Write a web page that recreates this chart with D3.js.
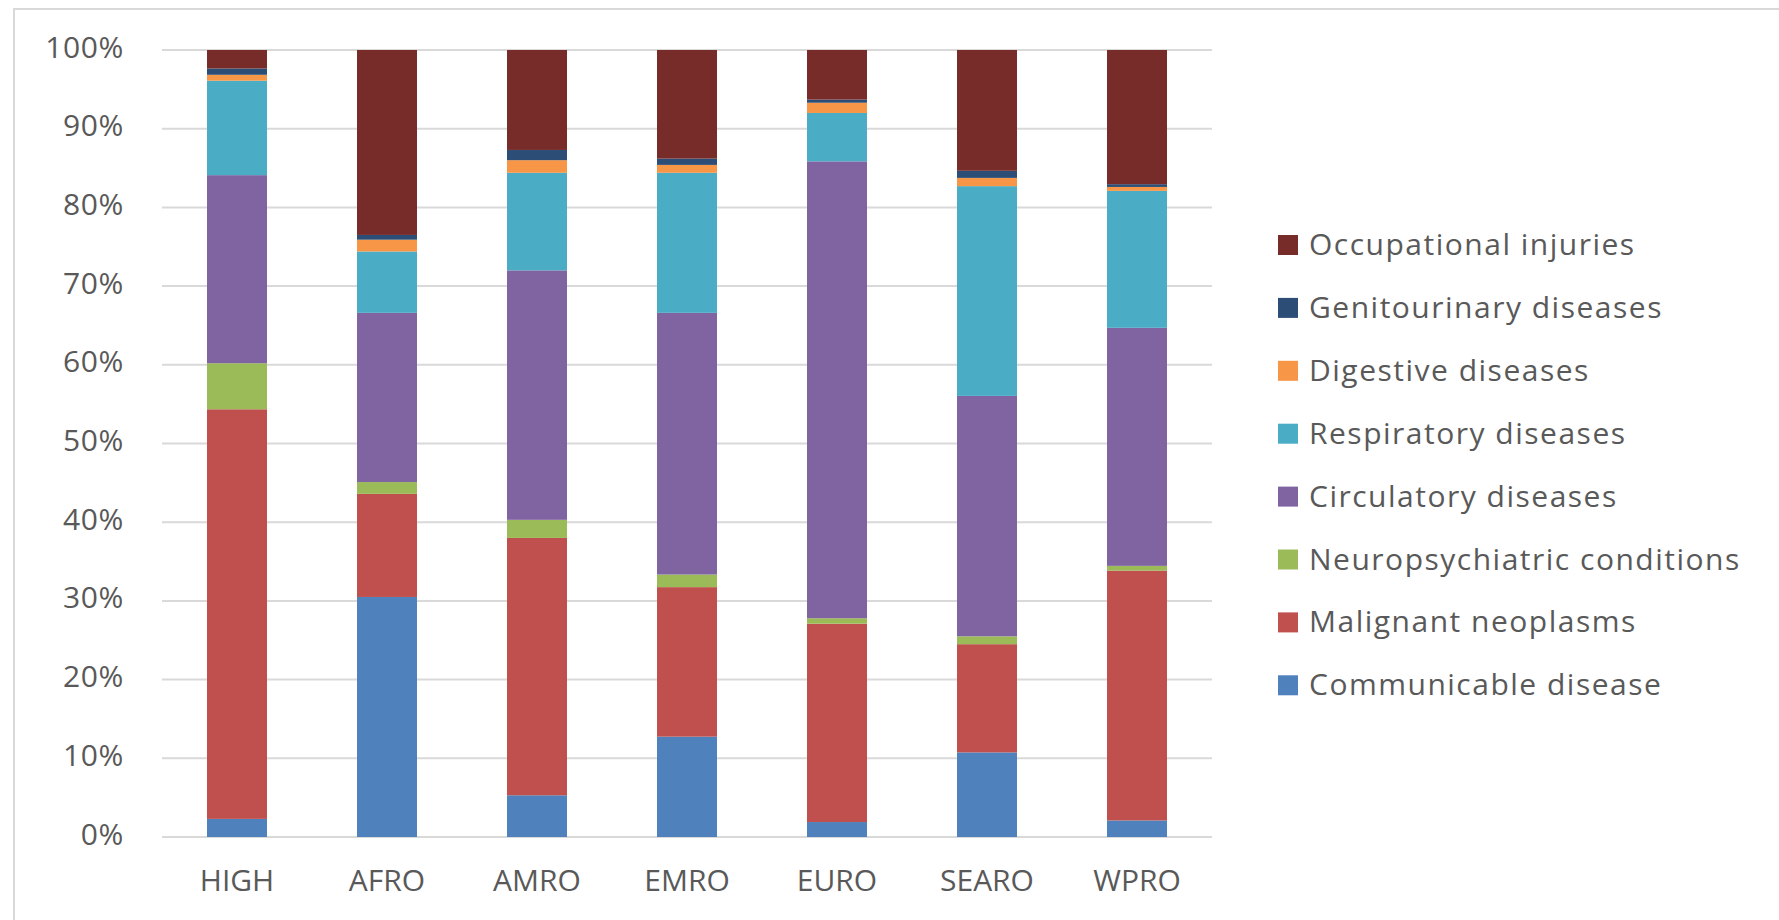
<!DOCTYPE html>
<html>
<head>
<meta charset="utf-8">
<script src="https://cdn.jsdelivr.net/npm/d3@7"></script>
<style>
  body { margin: 0; background: #fff; }
  svg text { font-family: "Open Sans", Lato, sans-serif; fill: #595959; }
</style>
</head>
<body>
<svg width="1779" height="920"></svg>
<script>
// regions on the x axis
const regions = ['HIGH', 'AFRO', 'AMRO', 'EMRO', 'EURO', 'SEARO', 'WPRO'];

// series, bottom to top (percent of total)
const communicable   = [2.3, 30.5, 5.3, 12.75, 1.9, 10.75, 2.1];
const malignant      = [52.05, 13.1, 32.7, 19.0, 25.2, 13.75, 31.75];
const neuro          = [5.85, 1.5, 2.3, 1.6, 0.7, 1.0, 0.6];
const circulatory    = [23.9, 21.5, 31.7, 33.25, 58.05, 30.55, 30.25];
const respiratory    = [12.0, 7.8, 12.4, 17.8, 6.15, 26.65, 17.4];
const digestive      = [0.75, 1.5, 1.6, 1.0, 1.3, 1.05, 0.5];
const genitourinary  = [0.8, 0.6, 1.3, 0.8, 0.4, 0.9, 0.35];
const occupational   = [2.35, 23.5, 12.7, 13.8, 6.3, 15.35, 17.05];

const seriesNames = ['Communicable disease', 'Malignant neoplasms', 'Neuropsychiatric conditions',
  'Circulatory diseases', 'Respiratory diseases', 'Digestive diseases',
  'Genitourinary diseases', 'Occupational injuries'];
const seriesValues = [communicable, malignant, neuro, circulatory, respiratory, digestive, genitourinary, occupational];
const colors = ['#4F81BD', '#C0504D', '#9BBB59', '#8064A2', '#4BACC6', '#F79646', '#2C4D75', '#772C2A'];

const yTicks = [0, 10, 20, 30, 40, 50, 60, 70, 80, 90, 100];

const svg = d3.select('svg');

// chart area border
svg.append('rect')
  .attr('x', 14).attr('y', 9)
  .attr('width', 1800).attr('height', 960)
  .attr('fill', 'none')
  .attr('stroke', '#D9D9D9')
  .attr('stroke-width', 2);

const plotLeft = 162, plotRight = 1212, plotTop = 50, plotBottom = 837;

const x = d3.scaleBand().domain(regions).range([plotLeft, plotRight]).paddingInner(0.6).paddingOuter(0.3);
const y = d3.scaleLinear().domain([0, 100]).range([plotBottom, plotTop]);

// gridlines
svg.append('g')
  .selectAll('line')
  .data(yTicks)
  .enter()
  .append('line')
  .attr('x1', plotLeft).attr('x2', plotRight)
  .attr('y1', d => y(d)).attr('y2', d => y(d))
  .attr('stroke', '#D9D9D9')
  .attr('stroke-width', 2);

// y labels
svg.append('g')
  .selectAll('text')
  .data(yTicks)
  .enter()
  .append('text')
  .attr('x', 124)
  .attr('y', d => y(d))
  .attr('dy', '0.25em')
  .attr('text-anchor', 'end')
  .style('font-size', '30px')
  .style('letter-spacing', '0.6px')
  .text(d => d + '%');

// stacked data
const table = regions.map((r, i) => {
  const row = { region: r };
  seriesNames.forEach((s, j) => row[s] = seriesValues[j][i]);
  return row;
});
const stack = d3.stack().keys(seriesNames)(table);

const color = d3.scaleOrdinal(seriesNames, colors);

svg.append('g')
  .selectAll('g')
  .data(stack)
  .enter()
  .append('g')
  .attr('fill', d => color(d.key))
  .selectAll('rect')
  .data(d => d)
  .enter()
  .append('rect')
  .attr('x', d => x(d.data.region))
  .attr('width', x.bandwidth())
  .attr('y', d => y(d[1]))
  .attr('height', d => y(d[0]) - y(d[1]));

// x labels
svg.append('g')
  .selectAll('text')
  .data(regions)
  .enter()
  .append('text')
  .attr('x', d => x(d) + x.bandwidth() / 2)
  .attr('y', 891)
  .attr('text-anchor', 'middle')
  .style('font-size', '30px')
  .text(d => d);

// legend, top entry is the last series
const legendNames = seriesNames.slice().reverse();
const legend = svg.append('g')
  .selectAll('g')
  .data(legendNames)
  .enter()
  .append('g')
  .attr('transform', (d, i) => `translate(1278, ${245 + i * 62.9})`);

legend.append('rect')
  .attr('x', 0).attr('y', -10)
  .attr('width', 20).attr('height', 20)
  .attr('fill', d => color(d));

legend.append('text')
  .attr('x', 31)
  .attr('y', 10)
  .style('font-size', '30px')
  .style('letter-spacing', '1.5px')
  .text(d => d);
</script>
</body>
</html>
